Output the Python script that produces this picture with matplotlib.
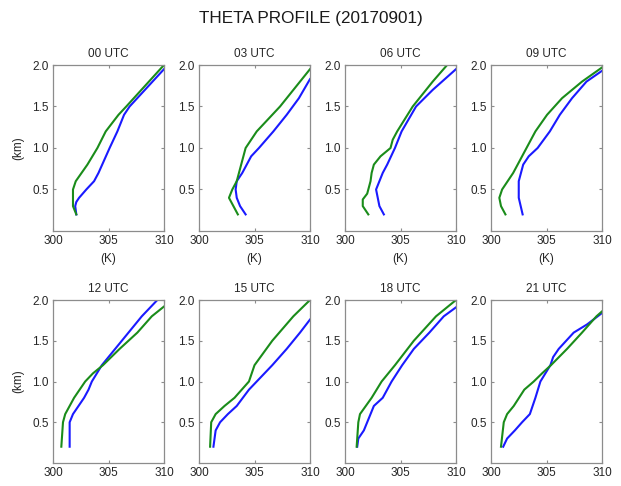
import matplotlib
matplotlib.use('Agg')
import matplotlib.pyplot as plt

plt.rcParams['font.family'] = ['Liberation Sans', 'DejaVu Sans']

hours = ['00 UTC', '03 UTC', '06 UTC', '09 UTC', '12 UTC', '15 UTC', '18 UTC', '21 UTC']

# (height km, theta K), blue and green profile per time
blue_z = [
    [0.2, 0.3, 0.35, 0.4, 0.5, 0.6, 0.7, 0.85, 1.0, 1.2, 1.4, 1.5, 1.95],
    [0.2, 0.3, 0.4, 0.5, 0.6, 0.7, 0.9, 1.0, 1.2, 1.4, 1.6, 1.83],
    [0.2, 0.3, 0.5, 0.7, 0.8, 1.0, 1.2, 1.5, 1.7, 1.95],
    [0.2, 0.4, 0.6, 0.8, 0.9, 1.0, 1.2, 1.4, 1.6, 1.8, 1.93],
    [0.2, 0.5, 0.6, 0.8, 0.9, 1.0, 1.2, 1.4, 1.6, 1.8, 2.0],
    [0.2, 0.4, 0.5, 0.6, 0.7, 0.9, 1.0, 1.2, 1.4, 1.6, 1.76],
    [0.2, 0.3, 0.4, 0.6, 0.7, 0.8, 1.0, 1.2, 1.4, 1.6, 1.8, 1.91],
    [0.2, 0.3, 0.4, 0.5, 0.6, 0.8, 1.0, 1.2, 1.3, 1.4, 1.6, 1.7, 1.84],
]
blue_t = [
    [302.1, 302.0, 302.1, 302.35, 303.0, 303.7, 304.1, 304.6, 305.1, 305.8, 306.4, 306.9, 310.0],
    [304.2, 303.7, 303.4, 303.3, 303.4, 303.9, 304.7, 305.4, 306.7, 307.9, 309.0, 310.0],
    [303.5, 303.1, 302.8, 303.4, 303.8, 304.5, 305.1, 306.4, 307.9, 310.0],
    [302.85, 302.5, 302.5, 302.9, 303.4, 304.2, 305.3, 306.2, 307.3, 308.6, 310.0],
    [301.5, 301.5, 301.8, 302.8, 303.2, 303.5, 304.4, 305.6, 306.8, 308.0, 309.4],
    [301.3, 301.5, 301.9, 302.6, 303.4, 304.5, 305.2, 306.6, 307.9, 309.1, 310.0],
    [301.1, 301.2, 301.7, 302.3, 302.6, 303.4, 304.2, 305.15, 306.2, 307.6, 308.9, 310.0],
    [301.1, 301.45, 302.15, 302.8, 303.5, 304.0, 304.45, 305.35, 305.6, 306.1, 307.45, 308.65, 310.0],
]
green_z = [
    [0.2, 0.3, 0.5, 0.6, 0.8, 1.0, 1.2, 1.4, 1.5, 2.0],
    [0.2, 0.4, 0.5, 0.6, 0.8, 1.0, 1.2, 1.4, 1.5, 1.7, 1.95],
    [0.2, 0.3, 0.38, 0.45, 0.6, 0.7, 0.8, 0.9, 1.0, 1.1, 1.2, 1.5, 1.8, 2.0],
    [0.2, 0.3, 0.4, 0.5, 0.7, 0.9, 1.0, 1.2, 1.4, 1.6, 1.8, 1.97],
    [0.2, 0.5, 0.6, 0.8, 1.0, 1.1, 1.2, 1.4, 1.6, 1.8, 1.92],
    [0.2, 0.5, 0.6, 0.7, 0.8, 1.0, 1.2, 1.5, 1.8, 2.0],
    [0.2, 0.3, 0.5, 0.6, 0.8, 1.0, 1.2, 1.5, 1.8, 2.0],
    [0.2, 0.5, 0.6, 0.7, 0.9, 1.0, 1.1, 1.2, 1.4, 1.6, 1.8, 1.86],
]
green_t = [
    [302.1, 301.8, 301.8, 302.05, 303.1, 304.0, 304.75, 305.9, 306.6, 310.0],
    [303.5, 302.7, 303.0, 303.4, 303.8, 304.2, 305.2, 306.6, 307.3, 308.5, 310.0],
    [302.1, 301.6, 301.6, 302.0, 302.3, 302.4, 302.6, 303.2, 304.1, 304.3, 304.7, 306.1, 307.9, 309.2],
    [301.3, 300.9, 300.75, 301.0, 302.0, 302.8, 303.2, 304.0, 305.05, 306.4, 308.2, 310.0],
    [300.75, 300.9, 301.1, 301.9, 302.9, 303.6, 304.5, 306.0, 307.6, 308.9, 310.0],
    [301.0, 301.1, 301.5, 302.3, 303.2, 304.5, 305.0, 306.6, 308.5, 310.0],
    [301.05, 301.1, 301.2, 301.35, 302.4, 303.3, 304.5, 306.2, 308.2, 310.0],
    [300.9, 301.15, 301.45, 302.05, 303.0, 303.85, 304.6, 305.4, 306.85, 308.2, 309.5, 310.0],
]

W, H = 621, 486
fig = plt.figure(figsize=(W / 100, H / 100), dpi=100)
fig.text(0.5, 1 - 18 / H, 'THETA PROFILE (20170901)', ha='center', va='center',
         fontsize=12.3, color='#1a1a1a')

lefts = [53, 199, 345, 491]
rows = [(65, 231), (300, 463)]
spine_col = '#8c8c8c'

for i, name in enumerate(hours):
    r, c = divmod(i, 4)
    top, bot = rows[r]
    ax = fig.add_axes([lefts[c] / W, 1 - bot / H, 111 / W, (bot - top) / H])
    ax.plot(blue_t[i], blue_z[i], color='#1a1aff', lw=1.5)
    ax.plot(green_t[i], green_z[i], color='#1a8c1a', lw=1.5)
    ax.set_xlim(300, 310)
    ax.set_ylim(0, 2)
    ax.set_xticks([300, 305, 310])
    ax.set_yticks([0.5, 1.0, 1.5, 2.0])
    ax.set_yticklabels(['0.5', '1.0', '1.5', '2.0'])
    ax.tick_params(direction='in', top=True, right=True, length=2.5, width=0.8,
                   color=spine_col, labelsize=8.5, labelcolor='#262626', pad=3)
    for s in ax.spines.values():
        s.set_color(spine_col)
        s.set_linewidth(0.9)
    ax.set_title(name, fontsize=8.5, color='#262626', pad=6)
    if r == 0:
        ax.set_xlabel('(K)', fontsize=8.5, color='#262626', labelpad=4)
    if c == 0:
        ax.set_ylabel('(km)', fontsize=8.5, color='#262626', labelpad=6)

fig.savefig('out.png', dpi=100)
